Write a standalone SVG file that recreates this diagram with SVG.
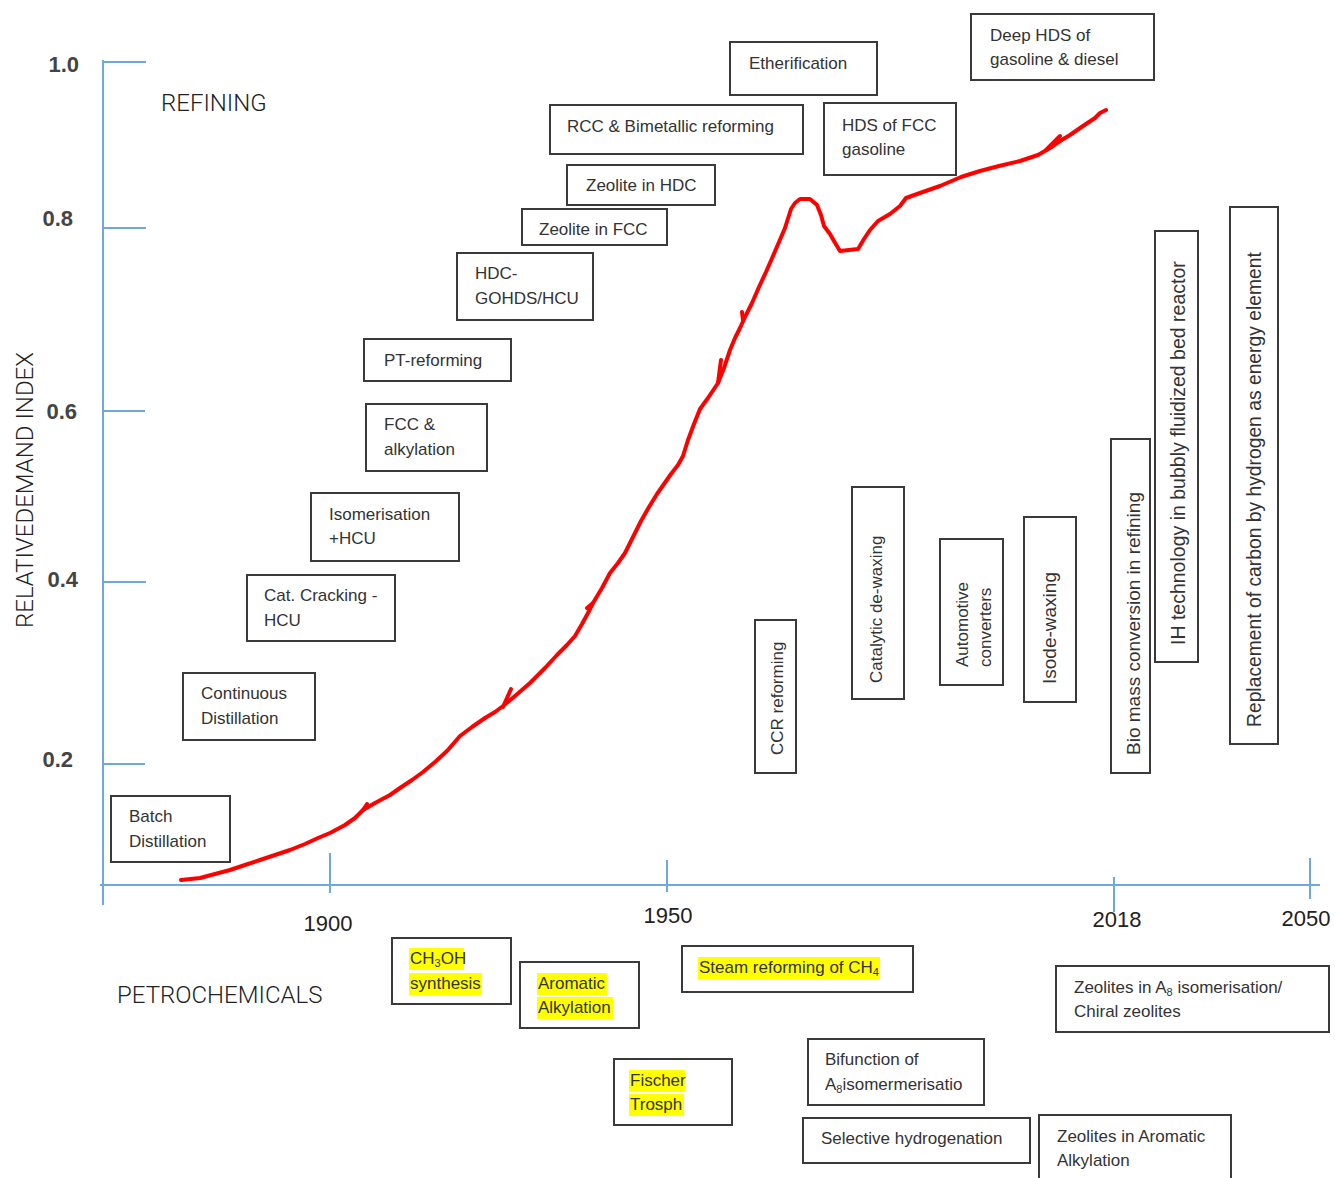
<svg xmlns="http://www.w3.org/2000/svg" width="1335" height="1178" viewBox="0 0 1335 1178">
<style>
.box{fill:#fff;stroke:#3a3a3a;stroke-width:2}
.t{font-family:"Liberation Sans",Arial,sans-serif;font-size:17px;fill:#333}
.hl{fill:#ffff00}
.axis{stroke:#6fa8dc;stroke-width:2;fill:none}
.ylab{font-family:"Liberation Sans",Arial,sans-serif;font-size:22px;font-weight:bold;fill:#444;text-anchor:end}
.xlab{font-family:"Liberation Sans",Arial,sans-serif;font-size:22px;fill:#222;text-anchor:middle}
.big{font-family:Roboto,"Liberation Sans",sans-serif;font-weight:300;font-size:24px;fill:#222}
.curve{fill:none;stroke:#ff0000;stroke-width:4;stroke-linejoin:round;stroke-linecap:round}
</style>
<rect width="1335" height="1178" fill="#fff"/>

<g id="axes">
<path class="axis" d="M103,60 V905 M100,885 H1320 M103,62 H146 M103,228 H146 M103,411 H145 M103,582 H146 M103,764 H145 M330,853 V893 M667,860 V892 M1114,877 V912 M1310,858 V899"/>
<text class="ylab" x="79" y="72">1.0</text>
<text class="ylab" x="73" y="226">0.8</text>
<text class="ylab" x="77" y="419">0.6</text>
<text class="ylab" x="78" y="587">0.4</text>
<text class="ylab" x="73" y="767">0.2</text>
<text class="xlab" x="328" y="931">1900</text>
<text class="xlab" x="668" y="923">1950</text>
<text class="xlab" x="1117" y="927">2018</text>
<text class="xlab" x="1306" y="926">2050</text>
<text class="big" x="161" y="111">REFINING</text>
<text class="big" x="117" y="1003">PETROCHEMICALS</text>
<text class="big" transform="rotate(-90 33 628)" x="33" y="628">RELATIVEDEMAND INDEX</text>
</g>

<g id="connectors">
<polyline class="curve" points="181,880 200,878 215,874 230,870 245,865 260,860 275,855 290,850 305,844 318,838 330,833 345,825 355,818 363,810 375,803 390,795 400,788 412,780 423,772 435,762 447,751 460,736 472,727 485,718 495,712 503,706 515,696 530,683 545,668 557,655 567,645 575,636 582,624 588,613 593,603 602,588 610,573 618,563 625,553 633,537 641,521 649,507 657,494 664,484 671,474 678,465 683,456 688,440 694,424 700,409 708,398 718,383 724,368 730,350 735,338 740,328 745,317 752,303 759,287 766,272 773,256 779,242 785,228 791,209 795,203 800,199 810,199 817,205 821,215 824,226 830,234 834,241 840,251 858,249 864,239 870,230 878,221 890,214 900,206 906,198 920,193 940,186 961,177 980,171 999,166 1020,161 1038,155 1050,148 1060,141 1070,135 1083,126 1095,118 1100,113 1106,110"/>
<path class="curve" stroke-width="3" d="M503,707 L511,689 M593,603 L587,608 M718,383 L721,360 M742,312 L743,320 M1046,150 L1060,136 M363,810 L367,804"/>
</g>

<g id="batch"><rect class="box" x="111" y="796" width="119" height="66"/><text class="t" x="129" y="822">Batch</text><text class="t" x="129" y="847">Distillation</text></g>
<g id="continuous"><rect class="box" x="183" y="673" width="132" height="67"/><text class="t" x="201" y="699">Continuous</text><text class="t" x="201" y="724">Distillation</text></g>
<g id="catcracking"><rect class="box" x="247" y="575" width="148" height="66"/><text class="t" x="264" y="601">Cat. Cracking -</text><text class="t" x="264" y="626">HCU</text></g>
<g id="isomerisation"><rect class="box" x="311" y="493" width="148" height="68"/><text class="t" x="329" y="520">Isomerisation</text><text class="t" x="329" y="544">+HCU</text></g>
<g id="fcc"><rect class="box" x="366" y="404" width="121" height="67"/><text class="t" x="384" y="430">FCC &amp;</text><text class="t" x="384" y="455">alkylation</text></g>
<g id="pt"><rect class="box" x="364" y="339" width="147" height="42"/><text class="t" x="384" y="366">PT-reforming</text></g>
<g id="hdc"><rect class="box" x="457" y="253" width="136" height="67"/><text class="t" x="475" y="279">HDC-</text><text class="t" x="475" y="304">GOHDS/HCU</text></g>
<g id="zfcc"><rect class="box" x="522" y="209" width="145" height="36"/><text class="t" x="539" y="235">Zeolite in FCC</text></g>
<g id="zhdc"><rect class="box" x="567" y="165" width="148" height="40"/><text class="t" x="586" y="191">Zeolite in HDC</text></g>
<g id="rcc"><rect class="box" x="550" y="105" width="253" height="49"/><text class="t" x="567" y="132">RCC &amp; Bimetallic reforming</text></g>
<g id="ether"><rect class="box" x="730" y="42" width="147" height="53"/><text class="t" x="749" y="69">Etherification</text></g>
<g id="hdsfcc"><rect class="box" x="824" y="103" width="132" height="72"/><text class="t" x="842" y="131">HDS of FCC</text><text class="t" x="842" y="155">gasoline</text></g>
<g id="deephds"><rect class="box" x="971" y="14" width="183" height="66"/><text class="t" x="990" y="41">Deep HDS of</text><text class="t" x="990" y="65">gasoline &amp; diesel</text></g>

<g id="ccr"><rect class="box" x="755" y="620" width="41" height="153"/><text class="t" transform="rotate(-90 783 755)" x="783" y="755">CCR reforming</text></g>
<g id="catdewax"><rect class="box" x="852" y="487" width="52" height="212"/><text class="t" transform="rotate(-90 882 683)" x="882" y="683">Catalytic de-waxing</text></g>
<g id="automotive"><rect class="box" x="940" y="539" width="63" height="146"/><text class="t" transform="rotate(-90 968 667)" x="968" y="667">Automotive</text><text class="t" transform="rotate(-90 991 667)" x="991" y="667">converters</text></g>
<g id="isode"><rect class="box" x="1024" y="517" width="52" height="185"/><text class="t" style="font-size:19px" transform="rotate(-90 1056 684)" x="1056" y="684">Isode-waxing</text></g>
<g id="biomass"><rect class="box" x="1111" y="439" width="39" height="334"/><text class="t" style="font-size:19px" transform="rotate(-90 1140 755)" x="1140" y="755">Bio mass conversion in refining</text></g>
<g id="ih"><rect class="box" x="1155" y="231" width="43" height="431"/><text class="t" style="font-size:19.5px" transform="rotate(-90 1185 645)" x="1185" y="645">IH technology in bubbly fluidized bed reactor</text></g>
<g id="replacement"><rect class="box" x="1230" y="207" width="48" height="537"/><text class="t" style="font-size:19.3px" transform="rotate(-90 1261 727)" x="1261" y="727">Replacement of carbon by hydrogen as energy element</text></g>

<g id="ch3oh"><rect class="box" x="392" y="938" width="119" height="66"/><rect class="hl" x="409" y="948" width="55" height="22"/><rect class="hl" x="409" y="973" width="73" height="22"/><text class="t" x="410" y="964">CH<tspan font-size="11" dy="3">3</tspan><tspan dy="-3">OH</tspan></text><text class="t" x="410" y="989">synthesis</text></g>
<g id="aromatic"><rect class="box" x="520" y="962" width="119" height="66"/><rect class="hl" x="537" y="973" width="70" height="22"/><rect class="hl" x="537" y="997" width="76" height="22"/><text class="t" x="538" y="989">Aromatic</text><text class="t" x="538" y="1013">Alkylation</text></g>
<g id="steam"><rect class="box" x="682" y="946" width="231" height="46"/><rect class="hl" x="698" y="957" width="182" height="22"/><text class="t" x="699" y="973">Steam reforming of CH<tspan font-size="11" dy="3">4</tspan></text></g>
<g id="fischer"><rect class="box" x="614" y="1059" width="118" height="66"/><rect class="hl" x="629" y="1070" width="56" height="22"/><rect class="hl" x="629" y="1094" width="55" height="22"/><text class="t" x="630" y="1086">Fischer</text><text class="t" x="630" y="1110">Trosph</text></g>
<g id="bifunction"><rect class="box" x="808" y="1039" width="176" height="66"/><text class="t" x="825" y="1065">Bifunction of</text><text class="t" x="825" y="1090">A<tspan font-size="11" dy="3">8</tspan><tspan dy="-3">isomermerisatio</tspan></text></g>
<g id="zeoa8"><rect class="box" x="1056" y="966" width="273" height="66"/><text class="t" x="1074" y="993">Zeolites in A<tspan font-size="11" dy="3">8</tspan><tspan dy="-3"> isomerisation/</tspan></text><text class="t" x="1074" y="1017">Chiral zeolites</text></g>
<g id="selhyd"><rect class="box" x="803" y="1118" width="227" height="45"/><text class="t" x="821" y="1144">Selective hydrogenation</text></g>
<g id="zeoarom"><rect class="box" x="1039" y="1115" width="192" height="75"/><text class="t" x="1057" y="1142">Zeolites in Aromatic</text><text class="t" x="1057" y="1166">Alkylation</text></g>
</svg>
